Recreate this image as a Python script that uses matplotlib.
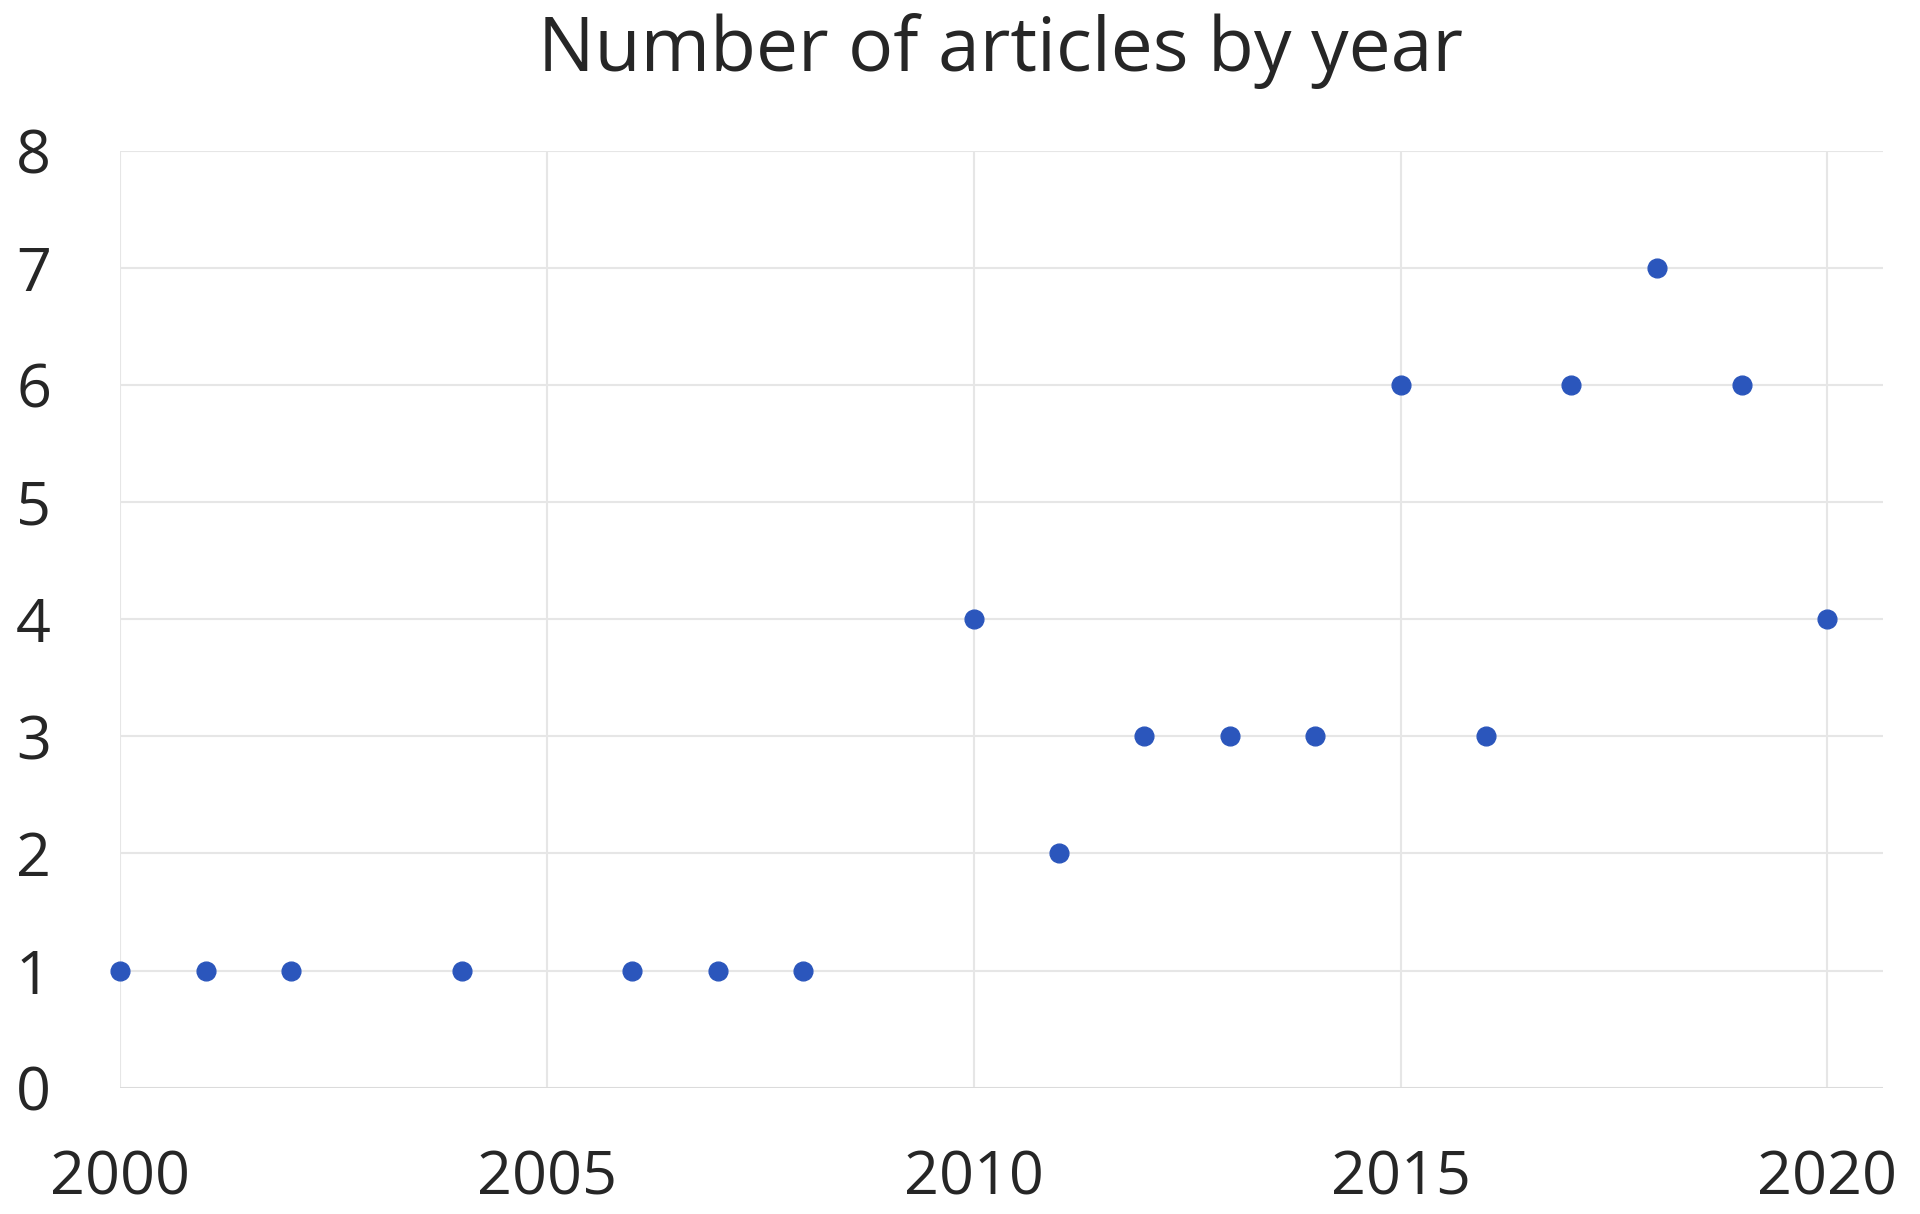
import matplotlib.pyplot as plt

years = [2000, 2001, 2002, 2004, 2006, 2007, 2008, 2010, 2011, 2012,
         2013, 2014, 2015, 2016, 2017, 2018, 2019, 2020]
articles = [1, 1, 1, 1, 1, 1, 1, 4, 2, 3, 3, 3, 6, 3, 6, 7, 6, 4]

x_ticks = [2000, 2005, 2010, 2015, 2020]
y_ticks = [0, 1, 2, 3, 4, 5, 6, 7, 8]

plt.rcParams['font.family'] = ['Open Sans', 'DejaVu Sans']

fig = plt.figure(figsize=(19.2, 12.14), dpi=100)
ax = fig.add_axes([0.0626, 0.104, 0.918, 0.772])

ax.plot(years, articles, linestyle='none', marker='o', markersize=13.5,
        color='#2B56BC', zorder=3, clip_on=False)

ax.set_xlim(2000, 2020.65)
ax.set_ylim(0, 8)
ax.set_xticks(x_ticks)
ax.set_yticks(y_ticks)
ax.grid(True, color='#E6E6E6', linewidth=1.5)
ax.set_axisbelow(True)
for s in ax.spines.values():
    s.set_visible(False)
ax.axhline(0, color='#DADADA', linewidth=2, zorder=1)

ax.tick_params(length=0, labelsize=44, colors='#262626')
ax.tick_params(axis='x', pad=44)
ax.tick_params(axis='y', pad=75)
for lab in ax.get_yticklabels():
    lab.set_horizontalalignment('left')

fig.text(0.521, 0.958, 'Number of articles by year', ha='center', va='center',
         fontsize=54, color='#262626')

fig.savefig('out.png', dpi=100, facecolor='white')
